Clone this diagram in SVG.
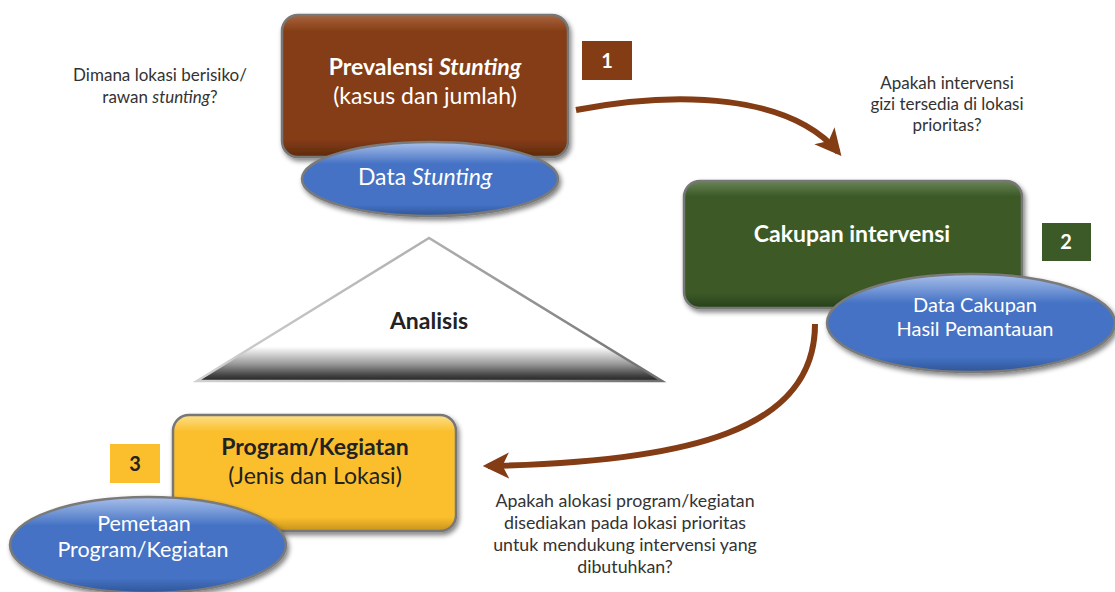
<svg xmlns="http://www.w3.org/2000/svg" width="1115" height="592" viewBox="0 0 1115 592">
<defs>
<style>
.t{font-family:Lato,"Open Sans","Liberation Sans",sans-serif;}
.w{fill:#fff;}
.d{fill:#222;}
.q{fill:#333;font-size:17px;}
.qb{fill:#333;font-size:17.8px;}
.h{font-size:23px;}
.s{font-size:20px;}
.p{font-size:21.5px;}
.bold{font-weight:bold;}
.box{stroke:#777;stroke-width:2.5;}
.ell{fill:url(#gBlue);stroke:#7a7a7a;stroke-width:2.5;}
.con{fill:none;stroke:#843C15;stroke-width:6;}
</style>
<filter id="sh" x="-10%" y="-10%" width="125%" height="130%">
<feGaussianBlur in="SourceAlpha" stdDeviation="2.5"/>
<feOffset dx="2" dy="3" result="o"/>
<feComponentTransfer><feFuncA type="linear" slope="0.5"/></feComponentTransfer>
<feMerge><feMergeNode/><feMergeNode in="SourceGraphic"/></feMerge>
</filter>
<linearGradient id="gBrown" x1="0" y1="0" x2="0" y2="1">
<stop offset="0" stop-color="#a8643e"/><stop offset="0.12" stop-color="#843C15"/><stop offset="0.88" stop-color="#843C15"/><stop offset="1" stop-color="#5c2a0e"/>
</linearGradient>
<linearGradient id="gGreen" x1="0" y1="0" x2="0" y2="1">
<stop offset="0" stop-color="#6a8456"/><stop offset="0.12" stop-color="#3C5A28"/><stop offset="0.88" stop-color="#3C5A28"/><stop offset="1" stop-color="#27401a"/>
</linearGradient>
<linearGradient id="gYellow" x1="0" y1="0" x2="0" y2="1">
<stop offset="0" stop-color="#fde08a"/><stop offset="0.14" stop-color="#FBBF2D"/><stop offset="0.88" stop-color="#FBBF2D"/><stop offset="1" stop-color="#c8921a"/>
</linearGradient>
<linearGradient id="gBlue" x1="0" y1="0" x2="0" y2="1">
<stop offset="0" stop-color="#a9c0ea"/><stop offset="0.3" stop-color="#4472C4"/><stop offset="0.85" stop-color="#4472C4"/><stop offset="1" stop-color="#2f5597"/>
</linearGradient>
<linearGradient id="gTri" x1="0" y1="0" x2="0" y2="1">
<stop offset="0" stop-color="#fff"/><stop offset="0.76" stop-color="#fff"/><stop offset="0.88" stop-color="#9a9a9a"/><stop offset="0.96" stop-color="#444"/><stop offset="1" stop-color="#222"/>
</linearGradient>
<linearGradient id="gTriS" x1="0" y1="0" x2="1" y2="0">
<stop offset="0" stop-color="#d0d0d0"/><stop offset="0.5" stop-color="#b0b0b0"/><stop offset="1" stop-color="#6e6e6e"/>
</linearGradient>
<marker id="ah" viewBox="0 0 10 10" refX="8" refY="5" markerWidth="4.4" markerHeight="4.4" orient="auto" markerUnits="strokeWidth">
<path d="M0,0 L10,5 L0,10 L2.5,5 Z" fill="#843C15"/>
</marker>
</defs>
<rect width="1115" height="592" fill="#fff"/>

<g id="analisis">
<polygon points="429,238 197,381 662,381" fill="url(#gTri)" stroke="url(#gTriS)" stroke-width="2.5" stroke-linejoin="miter"/>
<text class="t d bold h" x="429" y="329" text-anchor="middle">Analisis</text>
</g>

<g id="connectors">
<path class="con" d="M576,110 C680,90 790,95 838,152" marker-end="url(#ah)"/>
<path class="con" d="M815,324 C815,430 690,462 488,466" marker-end="url(#ah)"/>
</g>

<g id="node-prevalensi">
<rect class="box" x="282" y="15" width="286" height="142" rx="16" fill="url(#gBrown)" filter="url(#sh)"/>
<text class="t w h" x="425" y="75" text-anchor="middle"><tspan class="bold">Prevalensi <tspan font-style="italic">Stunting</tspan></tspan></text>
<text class="t w h" x="425" y="104" text-anchor="middle">(kasus dan jumlah)</text>
</g>
<g id="node-data-stunting">
<ellipse class="ell" cx="430" cy="179" rx="128" ry="37" filter="url(#sh)"/>
<text class="t w h" x="425" y="185" text-anchor="middle">Data <tspan font-style="italic">Stunting</tspan></text>
</g>
<g id="badge-1">
<rect x="582" y="41" width="50" height="39" fill="#843C15"/>
<text class="t w bold" x="607" y="68" font-size="20" text-anchor="middle">1</text>
</g>

<g id="node-cakupan">
<rect class="box" x="684" y="181" width="338" height="127" rx="16" fill="url(#gGreen)" filter="url(#sh)"/>
<text class="t w h bold" x="852" y="242" text-anchor="middle">Cakupan intervensi</text>
</g>
<g id="node-data-cakupan">
<ellipse class="ell" cx="971" cy="323" rx="144" ry="49" filter="url(#sh)"/>
<text class="t w s" x="975" y="312" text-anchor="middle">Data Cakupan</text>
<text class="t w s" x="975" y="336" text-anchor="middle">Hasil Pemantauan</text>
</g>
<g id="badge-2">
<rect x="1042" y="223" width="49" height="38" fill="#3C5A28"/>
<text class="t w bold" x="1066" y="249" font-size="20" text-anchor="middle">2</text>
</g>

<g id="node-program">
<rect class="box" x="173" y="415" width="283" height="116" rx="16" fill="url(#gYellow)" filter="url(#sh)"/>
<text class="t d h bold" x="315" y="455" text-anchor="middle">Program/Kegiatan</text>
<text class="t d h" x="315" y="484" text-anchor="middle">(Jenis dan Lokasi)</text>
</g>
<g id="node-pemetaan">
<ellipse class="ell" cx="148" cy="545" rx="138" ry="48" filter="url(#sh)"/>
<text class="t w p" x="144" y="531" text-anchor="middle">Pemetaan</text>
<text class="t w p" x="143" y="557" text-anchor="middle">Program/Kegiatan</text>
</g>
<g id="badge-3">
<rect x="110" y="444" width="50" height="39" fill="#FBBF2D"/>
<text class="t d bold" x="135" y="471" font-size="20" text-anchor="middle">3</text>
</g>

<g id="questions">
<text class="t q" x="160" y="81" text-anchor="middle">Dimana lokasi berisiko/</text>
<text class="t q" x="160" y="103" text-anchor="middle">rawan <tspan font-style="italic">stunting</tspan>?</text>
<text class="t q" x="947" y="89" text-anchor="middle">Apakah intervensi</text>
<text class="t q" x="947" y="110" text-anchor="middle">gizi tersedia di lokasi</text>
<text class="t q" x="947" y="131" text-anchor="middle">prioritas?</text>
<text class="t qb" x="625" y="507" text-anchor="middle">Apakah alokasi program/kegiatan</text>
<text class="t qb" x="625" y="529" text-anchor="middle">disediakan pada lokasi prioritas</text>
<text class="t qb" x="625" y="551" text-anchor="middle">untuk mendukung intervensi yang</text>
<text class="t qb" x="625" y="573" text-anchor="middle">dibutuhkan?</text>
</g>
</svg>
